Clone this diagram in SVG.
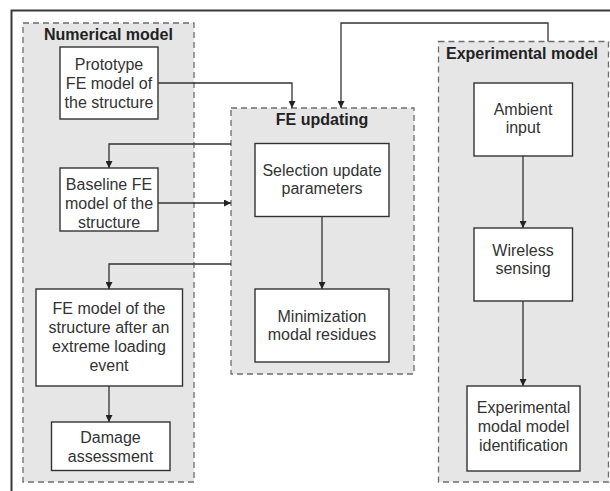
<svg xmlns="http://www.w3.org/2000/svg" width="610" height="491" viewBox="0 0 610 491">
  <style>
    .frame { fill: none; stroke: #3a3a3a; stroke-width: 2; }
    .group { fill: #e6e6e6; stroke: #6e6e6e; stroke-width: 1.3; stroke-dasharray: 6 4; }
    .box { fill: #ffffff; stroke: #333333; stroke-width: 1.4; }
    .link { fill: none; stroke: #333333; stroke-width: 1.3; }
    text { font-family: "Liberation Sans", Arial, sans-serif; font-size: 16px; fill: #333333; text-anchor: middle; }
    .title { font-weight: bold; fill: #222222; }
  </style>
  <defs>
    <marker id="arrow" viewBox="0 0 10 10" refX="10" refY="5" markerWidth="7" markerHeight="7" markerUnits="userSpaceOnUse" orient="auto">
      <path d="M0,0 L10,5 L0,10 z" fill="#222222"/>
    </marker>
  </defs>

  <!-- outer frame (top and left edges) -->
  <path class="frame" d="M11.5,491 V10.5 H610"/>

  <!-- groups -->
  <g id="numerical-model">
    <rect class="group" x="23" y="23" width="171" height="459"/>
    <text class="title" x="108.5" y="39.5">Numerical model</text>
  </g>
  <g id="fe-updating">
    <rect class="group" x="231" y="108" width="183" height="266"/>
    <text class="title" x="322" y="125">FE updating</text>
  </g>
  <g id="experimental-model">
    <rect class="group" x="438.5" y="41.5" width="170" height="440.5"/>
    <text class="title" x="522" y="58.5">Experimental model</text>
  </g>

  <!-- connectors -->
  <g id="connectors">
    <path class="link" d="M158,83 H292 V108" marker-end="url(#arrow)"/>
    <path class="link" d="M548,41.5 V23 H341 V108" marker-end="url(#arrow)"/>
    <path class="link" d="M231,144 H109 V168" marker-end="url(#arrow)"/>
    <path class="link" d="M158,203 H231" marker-end="url(#arrow)"/>
    <path class="link" d="M231,264 H109 V289" marker-end="url(#arrow)"/>
    <path class="link" d="M109,386 V422" marker-end="url(#arrow)"/>
    <path class="link" d="M322,216.5 V289" marker-end="url(#arrow)"/>
    <path class="link" d="M523,156 V228" marker-end="url(#arrow)"/>
    <path class="link" d="M523,301 V386" marker-end="url(#arrow)"/>
  </g>

  <!-- nodes -->
  <g id="prototype">
    <rect class="box" x="60" y="47" width="98" height="72"/>
    <text x="109" y="70">Prototype</text>
    <text x="109" y="89">FE model of</text>
    <text x="109" y="108">the structure</text>
  </g>
  <g id="baseline">
    <rect class="box" x="60" y="168" width="98" height="63"/>
    <text x="109" y="190">Baseline FE</text>
    <text x="109" y="209">model of the</text>
    <text x="109" y="228">structure</text>
  </g>
  <g id="extreme-event">
    <rect class="box" x="36" y="289" width="146.5" height="97"/>
    <text x="109" y="313.5">FE model of the</text>
    <text x="109" y="332.5">structure after an</text>
    <text x="109" y="351.5">extreme loading</text>
    <text x="109" y="370.5">event</text>
  </g>
  <g id="damage">
    <rect class="box" x="51.5" y="422" width="118.5" height="48.5"/>
    <text x="110.5" y="443">Damage</text>
    <text x="110.5" y="461.5">assessment</text>
  </g>
  <g id="selection">
    <rect class="box" x="255" y="143.5" width="134" height="73"/>
    <text x="322" y="175.5">Selection update</text>
    <text x="322" y="194">parameters</text>
  </g>
  <g id="minimization">
    <rect class="box" x="255" y="289" width="134" height="73"/>
    <text x="322" y="321.5">Minimization</text>
    <text x="322" y="340">modal residues</text>
  </g>
  <g id="ambient">
    <rect class="box" x="474" y="83" width="98.5" height="73"/>
    <text x="523" y="115">Ambient</text>
    <text x="523" y="133">input</text>
  </g>
  <g id="wireless">
    <rect class="box" x="474" y="228" width="98.5" height="73"/>
    <text x="523" y="255.5">Wireless</text>
    <text x="523" y="274">sensing</text>
  </g>
  <g id="identification">
    <rect class="box" x="467" y="386" width="113" height="85"/>
    <text x="523.5" y="412.5">Experimental</text>
    <text x="523.5" y="431.5">modal model</text>
    <text x="523.5" y="450.5">identification</text>
  </g>
</svg>
